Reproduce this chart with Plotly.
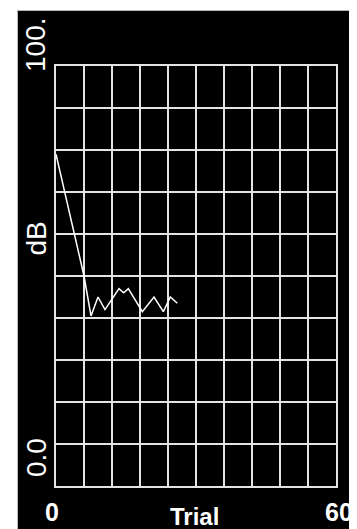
import plotly.graph_objects as go

# Data
trial = [0, 6, 7.5, 9, 10.5, 13.5, 14.5, 15.5, 18.5, 21, 23, 24.5, 26]
db = [79, 50, 40.5, 45, 42, 47, 46, 47, 41.5, 45, 41.5, 45, 43.5]

x_range = [0, 60]
y_range = [0, 100]
x_tick_labels = ["0", "60"]
y_tick_labels = ["0.0", "100."]

W, H = 357, 529
L, R, T, B = 48, 328, 58, 478  # plot area in px


def px_x(p):
    return (p - L) / (R - L)


def px_y(p):
    return (B - p) / (B - T)


fig = go.Figure()
fig.add_trace(go.Scatter(x=trial, y=db, mode="lines",
                         line=dict(color="white", width=1.5),
                         showlegend=False, hoverinfo="skip"))

grid_col = "#e4e4e4"
fig.update_xaxes(range=x_range, dtick=6, tick0=0, showgrid=True, gridcolor=grid_col,
                 gridwidth=2, showticklabels=False, ticks="", zeroline=False,
                 showline=True, linecolor=grid_col, linewidth=2, mirror=True)
fig.update_yaxes(range=y_range, dtick=10, tick0=0, showgrid=True, gridcolor=grid_col,
                 gridwidth=2, showticklabels=False, ticks="", zeroline=False,
                 showline=True, linecolor=grid_col, linewidth=2, mirror=True)

shapes = [dict(type="rect", xref="paper", yref="paper", layer="below",
               x0=px_x(9.5), x1=px_x(W + 10), y0=px_y(H + 10), y1=px_y(2.5),
               fillcolor="black", line=dict(color="#b8b8b8", width=1))]

fam = "Liberation Sans, Arial, sans-serif"
font_thin = dict(family=fam, size=28, color="white")
font_bold = dict(family=fam, size=25, color="white")
font_title = dict(family=fam, size=24, color="white")

ann = [
    dict(text=y_tick_labels[1], x=px_x(28), y=px_y(37), textangle=-90, font=font_thin),
    dict(text=y_tick_labels[0], x=px_x(28), y=px_y(450), textangle=-90, font=font_thin),
    dict(text="dB", x=px_x(28), y=px_y(230.5), textangle=-90, font=font_thin),
    dict(text="<b>%s</b>" % x_tick_labels[0], x=px_x(43.5), y=px_y(504), font=font_bold),
    dict(text="<b>%s</b>" % x_tick_labels[1], x=px_x(331), y=px_y(504), font=font_bold),
    dict(text="<b>Trial</b>", x=px_x(186.5), y=px_y(508), font=font_title),
]
for a in ann:
    a.update(xref="paper", yref="paper", showarrow=False, xanchor="center",
             yanchor="middle", borderpad=0)

fig.update_layout(width=W, height=H, margin=dict(l=L, r=W - R, t=T, b=H - B, pad=0),
                  paper_bgcolor="white", plot_bgcolor="black",
                  shapes=shapes, annotations=ann)

fig.write_html("out.html")
